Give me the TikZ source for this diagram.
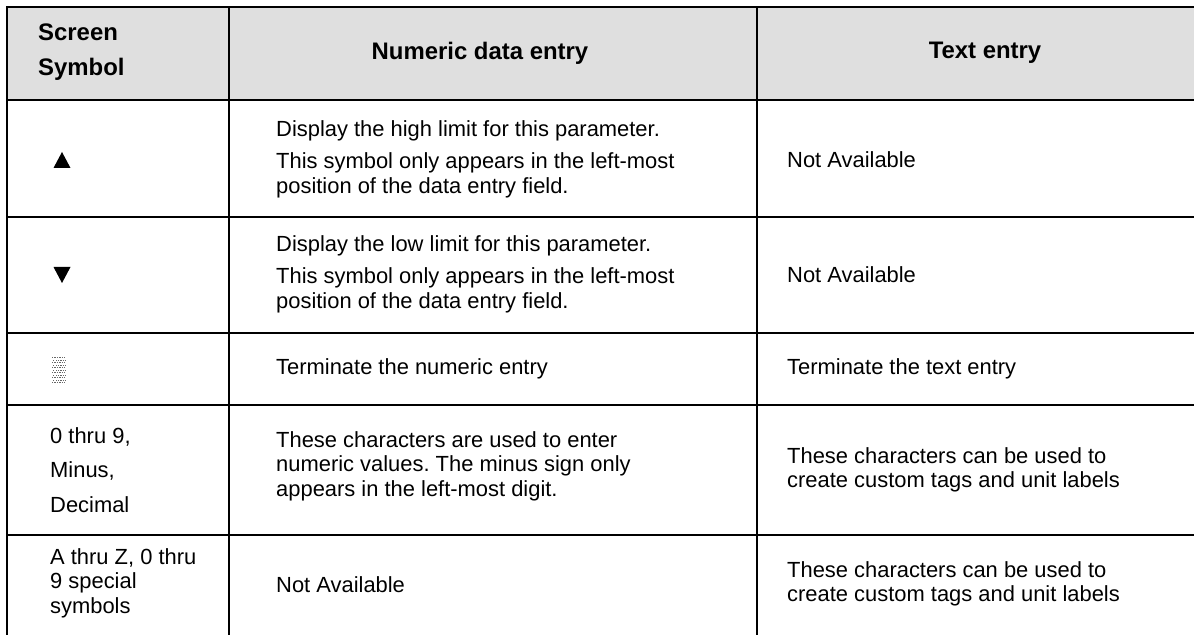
\documentclass[tikz,border=0pt]{standalone}
\usepackage{fontspec}
\setmainfont{Liberation Sans}
\frenchspacing
\definecolor{headgray}{RGB}{223,223,223}
\begin{document}
\begin{tikzpicture}[x=1bp,y=-1bp,
  rule/.style={line width=1.7bp, black},
  body/.style={font=\fontsize{22}{24.5}\selectfont, inner sep=0pt, align=left, anchor=west},
  head/.style={font=\bfseries\fontsize{24}{26}\selectfont, inner sep=0pt, align=left}]
\useasboundingbox (0,0) rectangle (1194,635);
% header band
\fill[headgray] (7,7) rectangle (1194,100);
% table rules
\draw[rule] (1194,7) -- (7,7) -- (7,635);
\foreach \y in {100,217,333,405,535} \draw[rule] (7,\y) -- (1194,\y);
\draw[rule] (229,7) -- (229,635);
\draw[rule] (757,7) -- (757,635);

% header texts
\node[head, anchor=west] (hsym) at (38,52) {Screen\\[9bp]Symbol};
\node[head] (hnum) at (480,53) {Numeric data entry};
\node[head] (htxt) at (985,53) {Text entry};

% row 1: up arrow
\fill (53.5,168) -- (70.5,168) -- (62,152) -- cycle;
\node[body] (r1n) at (276,159) {Display the high limit for this parameter.\\[8bp]This symbol only appears in the left-most\\position of the data entry field.};
\node[body] (r1t) at (787,160) {Not Available};

% row 2: down arrow
\fill (53.5,267) -- (70.5,267) -- (62,283) -- cycle;
\node[body] (r2n) at (276,274) {Display the low limit for this parameter.\\[8bp]This symbol only appears in the left-most\\position of the data entry field.};
\node[body] (r2t) at (787,275) {Not Available};

% row 3: dotted block symbol
\foreach \r in {0,...,10}
  \foreach \c in {0,...,5}
    \fill[black!60] ({52+2.4*\c+1.1*mod(\r,2)},{357+2.5*\r}) rectangle +(1.3,1.3);
\node[body] (r3n) at (276,369) {Terminate the numeric entry};
\node[body] (r3t) at (787,369) {Terminate the text entry};

% row 4: digits
\node[body] (r4s) at (50,470) {0 thru 9,\\[10bp]Minus,\\[10bp]Decimal};
\node[body] (r4n) at (276,466) {These characters are used to enter\\numeric values. The minus sign only\\appears in the left-most digit.};
\node[body] (r4t) at (787,470) {These characters can be used to\\create custom tags and unit labels};

% row 5: alphanumerics
\node[body] (r5s) at (50,583) {A thru Z, 0 thru\\9 special\\symbols};
\node[body] (r5n) at (276,585) {Not Available};
\node[body] (r5t) at (787,584) {These characters can be used to\\create custom tags and unit labels};
\end{tikzpicture}
\end{document}
